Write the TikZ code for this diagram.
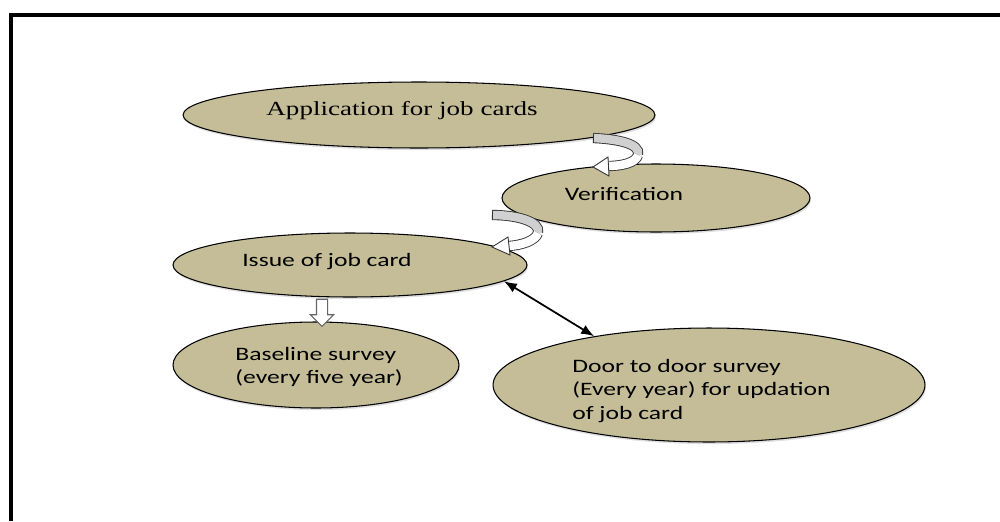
\documentclass[tikz,border=0pt]{standalone}
\usepackage{fontspec}
\setmainfont{Liberation Serif}
\newfontfamily\calfont{Carlito}
\usepackage{graphicx}
\usetikzlibrary{shapes.geometric,shapes.arrows,arrows.meta,shadows}
\definecolor{tanfill}{HTML}{C4BD97}
\definecolor{bandgray}{HTML}{D0D0D0}
\newcommand\stretchtxt[1]{\scalebox{1.35}[1]{#1}}
\tikzset{
  oval/.style={ellipse, draw=black, line width=0.6pt, fill=tanfill, inner sep=0pt,
    drop shadow={opacity=0.25, shadow xshift=0.6pt, shadow yshift=-1.2pt}},
  serlabel/.style={inner sep=0pt, font=\fontsize{11.4}{13.5}\selectfont, text=black},
  sanlabel/.style={inner sep=0pt, font=\calfont\fontsize{10.8}{13.4}\selectfont, text=black},
  bandback/.style={line width=0.5pt, draw=black!80, double=bandgray, double distance=0.17cm},
  bandfront/.style={line width=0.5pt, draw=black!80, double=white, double distance=0.17cm},
  bandhead/.style={draw=black!80, fill=white, line width=0.5pt, line join=miter},
  bandend/.style={draw=black!80, line width=0.5pt},
  link/.style={line width=1pt, {Latex[length=0.26cm,width=0.2cm]}-{Latex[length=0.26cm,width=0.2cm]}},
  blockdown/.style={single arrow, draw=black!60, fill=white, line width=0.6pt,
    minimum height=0.54cm, minimum width=0.44cm, inner sep=0.1cm,
    single arrow head extend=0.12cm, shape border rotate=270},
  frameline/.style={line width=0.08cm, draw=black, line join=miter},
}
\begin{document}
\begin{tikzpicture}[x=0.02cm, y=-0.02cm]
\useasboundingbox (0,0) rectangle (1000,521);
\draw[frameline] (11,521) -- (11,15) -- (1000,15);

% ellipses
\node[oval, minimum width=9.44cm, minimum height=1.32cm] (app) at (419,115) {};
\node[oval, minimum width=6.16cm, minimum height=1.36cm] (ver) at (656,198) {};
\node[oval, minimum width=7.08cm, minimum height=1.28cm] (iss) at (350,265) {};
\node[oval, minimum width=5.72cm, minimum height=1.72cm] (base) at (316,365) {};
\node[oval, minimum width=8.64cm, minimum height=2.28cm] (door) at (709,385) {};

% labels
\node[serlabel, anchor=base] (apptxt) at (402,115) {\stretchtxt{Application for job cards}};
\node[sanlabel, anchor=base] (vertxt) at (624,200) {\stretchtxt{Verification}};
\node[sanlabel, anchor=base] (isstxt) at (327,266) {\stretchtxt{Issue of job card}};
\node[sanlabel, anchor=base west] (basetxt) at (235,360)
  {\stretchtxt{\begin{tabular}[t]{@{}l@{}}Baseline survey\\(every five year)\end{tabular}}};
\node[sanlabel, anchor=base west] (doortxt) at (572,372)
  {\stretchtxt{\begin{tabular}[t]{@{}l@{}}Door to door survey\\(Every year) for updation\\of job card\end{tabular}}};

% curved arrow: application -> verification
\draw[bandback] (593,138) .. controls (615,139) and (641,143) .. (638,155);
\draw[bandfront] (638,155) .. controls (636,163) and (621,166) .. (608,166);
\draw[bandend] (593,133.5) -- (593,142.5);
\draw[bandhead] (608,157) -- (593,167) -- (609,176) -- cycle;

% curved arrow: verification -> issue
\draw[bandback] (492,215) .. controls (515,215) and (541,221) .. (538,233);
\draw[bandfront] (538,233) .. controls (535,241) and (522,245) .. (509,246);
\draw[bandend] (492,210.5) -- (492,219.5);
\draw[bandhead] (508,237) -- (492,247) -- (510,255) -- cycle;

% block arrow issue -> baseline
\node[blockdown] (down) at (322,310) {};

% double arrow issue <-> door
\draw[link] (iss.-6.6) -- (door.157);
\end{tikzpicture}
\end{document}
